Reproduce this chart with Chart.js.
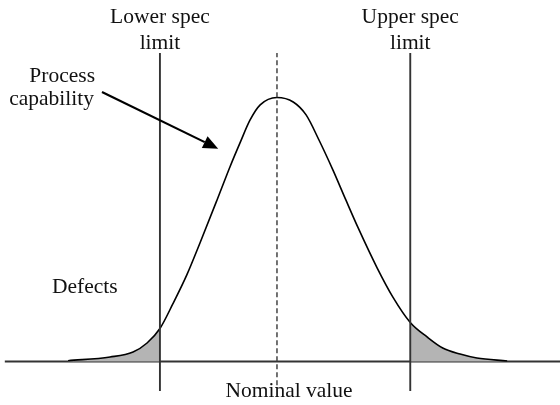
<!DOCTYPE html>
<html>
<head>
<meta charset="utf-8">
<title>Process capability</title>
<script src="https://cdn.jsdelivr.net/npm/chart.js@4.4.1/dist/chart.umd.min.js"></script>
<style>
  html, body { margin: 0; padding: 0; background: #fff; }
  #wrap { width: 560px; height: 405px; position: relative; }
</style>
</head>
<body>
<div id="wrap"><canvas id="capChart"></canvas></div>
<script>
// process distribution (x in sigma-ish units, y relative density)
const curveX = [-3.73, -2.98, -2.57, -2.32, -2.09, -1.86, -1.61, -1.375, -1.07, -0.84, -0.66, -0.48, -0.30, 0.00,
                0.29, 0.52, 0.75, 1.00, 1.23, 1.45, 1.79, 2.07, 2.38, 2.68, 2.96, 3.27, 3.57, 4.11];
const curveY = [0.003, 0.017, 0.036, 0.070, 0.125, 0.218, 0.328, 0.449, 0.612, 0.737, 0.828, 0.915, 0.972, 1.000,
                0.983, 0.934, 0.839, 0.725, 0.612, 0.506, 0.354, 0.244, 0.148, 0.093, 0.051, 0.028, 0.013, 0.002];

// spec limits and nominal
const lowerSpec = -2.09;
const upperSpec = 2.38;
const nominal = 0;

// vertical extents of the reference lines
const limitTop = 1.169;
const limitBottom = -0.112;
const nominalBottom = -0.09;

// horizontal axis line
const axisX = [-4.86, 5.06];

// arrow from "Process capability" label to the curve
const arrowFrom = [-3.125, 1.021];
const arrowTo = [-1.05, 0.806];

const pts = curveX.map((x, i) => ({ x: x, y: curveY[i] }));

function vline(x, bottom, top) {
    return [{ x: x, y: bottom }, { x: x, y: top }];
}

const FONT = '21.5px "Liberation Serif", "DejaVu Serif", serif';

// labels + arrow
const annotations = {
    id: 'annotations',
    afterDatasetsDraw(chart) {
        const ctx = chart.ctx;
        const xs = chart.scales.x, ys = chart.scales.y;
        const px = v => xs.getPixelForValue(v);
        const py = v => ys.getPixelForValue(v);

        ctx.save();
        ctx.fillStyle = '#111';
        ctx.font = FONT;
        ctx.textBaseline = 'alphabetic';

        ctx.textAlign = 'center';
        ctx.fillText('Lower spec', px(lowerSpec), 23);
        ctx.fillText('limit', px(lowerSpec), 49);
        ctx.fillText('Upper spec', px(upperSpec), 23);
        ctx.fillText('limit', px(upperSpec), 49);
        ctx.fillText('Nominal value', 289, 397);

        ctx.textAlign = 'right';
        ctx.fillText('Process', 95, 82);
        ctx.fillText('capability', 94, 105);

        ctx.textAlign = 'left';
        ctx.fillText('Defects', 52, 293);

        // arrow
        const x0 = px(arrowFrom[0]), y0 = py(arrowFrom[1]);
        const x1 = px(arrowTo[0]), y1 = py(arrowTo[1]);
        const ang = Math.atan2(y1 - y0, x1 - x0);
        const headLen = 15, headW = 6.5;
        const bx = x1 - headLen * Math.cos(ang), by = y1 - headLen * Math.sin(ang);
        ctx.strokeStyle = '#000';
        ctx.lineWidth = 2.2;
        ctx.beginPath();
        ctx.moveTo(x0, y0);
        ctx.lineTo(bx, by);
        ctx.stroke();
        ctx.fillStyle = '#000';
        ctx.beginPath();
        ctx.moveTo(x1, y1);
        ctx.lineTo(bx + headW * Math.sin(ang), by - headW * Math.cos(ang));
        ctx.lineTo(bx - headW * Math.sin(ang), by + headW * Math.cos(ang));
        ctx.closePath();
        ctx.fill();
        ctx.restore();
    }
};

const ctx = document.getElementById('capChart').getContext('2d');
new Chart(ctx, {
    type: 'scatter',
    data: {
        datasets: [
            {
                // distribution curve, tails outside the limits shaded
                data: pts,
                showLine: true,
                borderColor: '#000',
                borderWidth: 1.6,
                pointRadius: 0,
                cubicInterpolationMode: 'monotone',
                fill: 'origin',
                backgroundColor: 'transparent',
                segment: {
                    backgroundColor: c => (c.p1.parsed.x <= lowerSpec + 1e-9 || c.p0.parsed.x >= upperSpec - 1e-9)
                        ? '#b4b4b4' : 'transparent'
                },
                order: 1
            },
            {
                data: [{ x: axisX[0], y: 0 }, { x: axisX[1], y: 0 }],
                showLine: true,
                borderColor: '#333',
                borderWidth: 2,
                pointRadius: 0,
                order: 2
            },
            {
                data: vline(lowerSpec, limitBottom, limitTop),
                showLine: true,
                borderColor: '#333',
                borderWidth: 1.9,
                pointRadius: 0,
                order: 0
            },
            {
                data: vline(upperSpec, limitBottom, limitTop),
                showLine: true,
                borderColor: '#333',
                borderWidth: 1.9,
                pointRadius: 0,
                order: 0
            },
            {
                data: vline(nominal, nominalBottom, limitTop),
                showLine: true,
                borderColor: '#444',
                borderWidth: 1.5,
                borderDash: [5, 3],
                pointRadius: 0,
                order: 0
            }
        ]
    },
    options: {
        responsive: true,
        maintainAspectRatio: false,
        animation: false,
        layout: { padding: 0 },
        plugins: {
            legend: { display: false },
            tooltip: { enabled: false },
            title: { display: false }
        },
        scales: {
            x: { type: 'linear', display: false, min: -4.946, max: 5.054 },
            y: { type: 'linear', display: false, min: -0.1648, max: 1.3693 }
        }
    },
    plugins: [annotations]
});
</script>
</body>
</html>
